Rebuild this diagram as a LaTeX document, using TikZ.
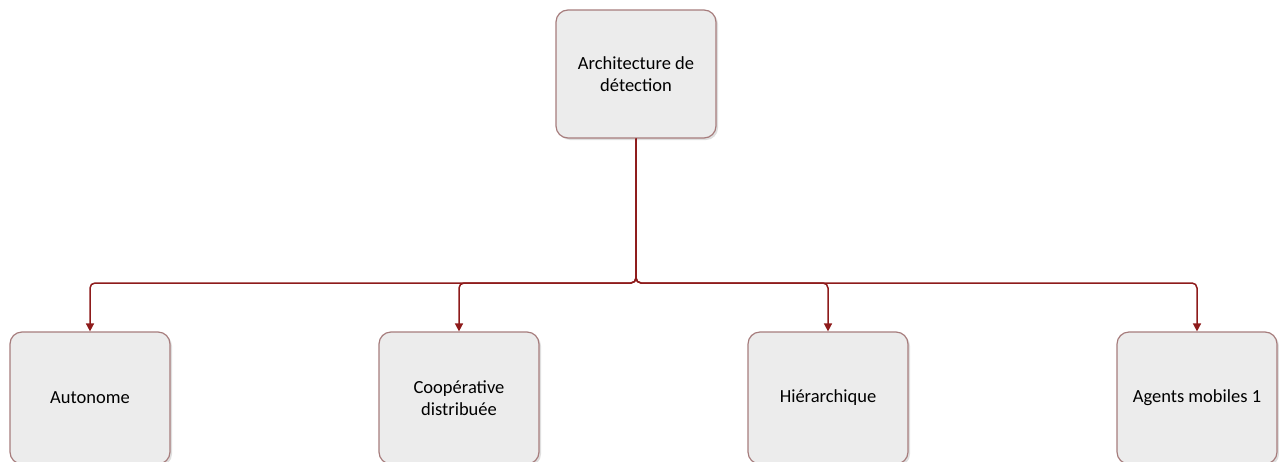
\documentclass[tikz,border=0pt]{standalone}
\usepackage{fontspec}
\setmainfont{Carlito}
\usetikzlibrary{arrows.meta,shadows}
\definecolor{boxfill}{HTML}{ECECEC}
\definecolor{boxline}{HTML}{A67C7C}
\definecolor{link}{HTML}{8E1B1B}
\tikzset{
  unit/.style={draw=boxline, line width=1.2pt, fill=boxfill, rounded corners=12pt,
    minimum width=160pt, minimum height=128pt, inner sep=4pt, align=center,
    font=\fontsize{18.5}{22}\selectfont,
    drop shadow={shadow xshift=2pt, shadow yshift=-2pt, opacity=0.25, fill=gray}},
  link/.style={draw=link, line width=1.5pt, rounded corners=5pt,
    -{Triangle[length=8pt,width=8pt]}}
}
\begin{document}
\begin{tikzpicture}[x=1pt,y=-1pt]
\useasboundingbox (0,0) rectangle (1279,461);
\node[unit] (root) at (636,74) {Architecture de\\détection};
\node[unit, minimum height=132pt] (a) at (90,398) {Autonome};
\node[unit, minimum height=132pt] (b) at (459,398) {Coopérative\\distribuée};
\node[unit, minimum height=132pt] (c) at (828,398) {Hiérarchique};
\node[unit, minimum height=132pt] (d) at (1197,398) {Agents mobiles 1};
\coordinate (hub) at (636,283);
\foreach \t in {a,b,c,d}
  \draw[link] (root.south) -- (hub) -| (\t.north);
\end{tikzpicture}
\end{document}
